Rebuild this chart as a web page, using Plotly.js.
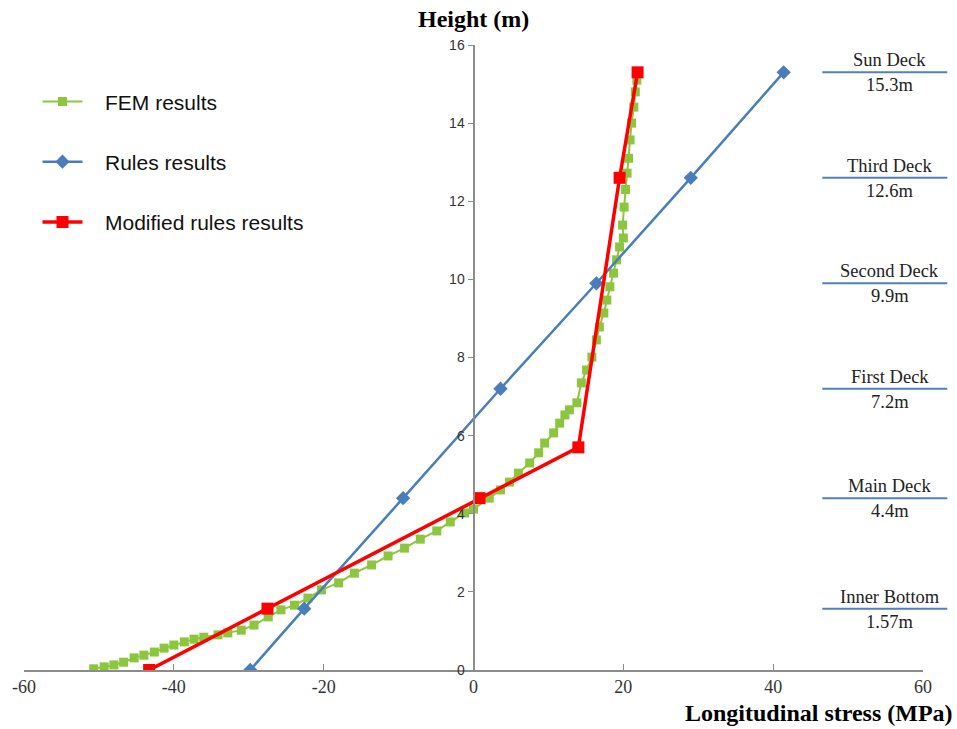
<!DOCTYPE html>
<html>
<head>
<meta charset="utf-8">
<script src="https://cdn.plot.ly/plotly-3.0.1.min.js"></script>
<style>html,body{margin:0;padding:0;background:#fff;}#chart{width:957px;height:729px;}</style>
</head>
<body>
<div id="chart"></div>
<script>
// FEM results (MPa, m)
var femStress = [-50.7,-49.3,-48.0,-46.7,-45.3,-44.0,-42.6,-41.3,-40.0,-38.6,-37.3,-36.0,-34.1,-32.8,-31.0,-29.3,-27.4,-25.7,-23.9,-22.1,-20.3,-18.0,-15.9,-13.6,-11.4,-9.2,-7.1,-4.9,-3.1,-1.2,0.0,2.1,3.6,4.8,6.0,7.5,8.7,9.5,10.7,11.5,12.2,12.8,13.8,14.4,15.1,15.8,16.4,16.8,17.4,17.8,18.2,18.7,19.1,19.5,20.0,19.9,20.1,20.3,20.5,20.7,20.9,21.1,21.4,21.6,21.8,21.9];
var femHeight = [0.03,0.08,0.13,0.20,0.31,0.38,0.46,0.56,0.64,0.72,0.79,0.84,0.90,0.95,1.02,1.15,1.36,1.54,1.66,1.84,2.05,2.23,2.48,2.69,2.92,3.12,3.35,3.56,3.79,4.02,4.12,4.40,4.61,4.81,5.04,5.30,5.56,5.81,6.07,6.32,6.53,6.66,6.84,7.35,7.68,8.01,8.45,8.78,9.14,9.47,9.81,10.16,10.50,10.83,11.06,11.39,11.85,12.30,12.72,13.10,13.57,14.00,14.41,14.80,15.10,15.30];
// Rules results
var rulesStress = [-29.8,-22.6,-9.4,3.6,16.4,29.0,41.4];
var rulesHeight = [0,1.57,4.4,7.2,9.9,12.6,15.3];
// Modified rules results
var modStress = [-43.3,-27.5,0.8,14.0,19.5,21.9];
var modHeight = [0,1.57,4.4,5.7,12.6,15.3];
// Deck annotations
var deckNames = ["Sun Deck","Third Deck","Second Deck","First Deck","Main Deck","Inner Bottom"];
var deckHeights = [15.3,12.6,9.9,7.2,4.4,1.57];
var deckLabels = ["15.3m","12.6m","9.9m","7.2m","4.4m","1.57m"];
var seriesNames = ["FEM results","Rules results","Modified rules results"];
var xTicks = [-60,-40,-20,0,20,40,60];
var yTicks = [0,2,4,6,8,10,12,14,16];

var pad = '\u00a0\u00a0\u00a0';
var traces = [
  {x: femStress, y: femHeight, type:'scatter', mode:'lines+markers', name:pad + seriesNames[0], legendgroup:'a',
   line:{color:'#8cc63f', width:2}, marker:{symbol:'square', size:9, color:'#8cc63f'}},
  {x: rulesStress, y: rulesHeight, type:'scatter', mode:'lines+markers', name:pad + seriesNames[1], legendgroup:'b',
   line:{color:'#4a7ebb', width:2.5}, marker:{symbol:'diamond', size:11, color:'#4a7ebb'}},
  {x: modStress, y: modHeight, type:'scatter', mode:'lines+markers', name:pad + seriesNames[2], legendgroup:'c',
   line:{color:'#ff0000', width:3.5}, marker:{symbol:'square', size:12, color:'#ff0000'}}
];

var annotations = [
  {text:'<b>Height (m)</b>', xref:'paper', yref:'paper', x:0.5, xanchor:'center', y:1, yanchor:'bottom', yshift:11, showarrow:false,
   font:{family:'Liberation Serif', size:24, color:'#000'}},
  {text:'<b>Longitudinal stress (MPa)</b>', xref:'paper', yref:'paper', x:1.036, xanchor:'right', y:0, yanchor:'top', yshift:-28, showarrow:false,
   font:{family:'Liberation Serif', size:24, color:'#000'}}
];
var shapes = [];
for (var i = 0; i < deckNames.length; i++) {
  annotations.push({text:deckNames[i], xref:'paper', yref:'y', x:0.963, xanchor:'center', y:deckHeights[i], yanchor:'bottom', yshift:0,
    showarrow:false, font:{family:'Liberation Serif', size:18.5, color:'#222'}});
  annotations.push({text:deckLabels[i], xref:'paper', yref:'y', x:0.963, xanchor:'center', y:deckHeights[i], yanchor:'top', yshift:-1,
    showarrow:false, font:{family:'Liberation Serif', size:18.5, color:'#222'}});
  shapes.push({type:'line', xref:'paper', yref:'y', x0:0.888, x1:1.027, y0:deckHeights[i], y1:deckHeights[i],
    line:{color:'#4f81bd', width:2}});
}

var layout = {
  width:957, height:729,
  margin:{l:24, r:34, t:45, b:59, pad:0},
  paper_bgcolor:'#fff', plot_bgcolor:'#fff',
  showlegend:true,
  legend:{x:0.015, y:0.942, xanchor:'left', yanchor:'top', traceorder:'grouped', tracegroupgap:30, itemwidth:40,
    font:{family:'Liberation Sans', size:21, color:'#111'}, bgcolor:'rgba(0,0,0,0)'},
  xaxis:{range:[-60,60], tickvals:xTicks, ticktext:xTicks.map(String), showgrid:false, zeroline:false,
    showline:true, linecolor:'#8c8c8c', linewidth:1.5, ticks:'inside', ticklen:6, tickcolor:'#8c8c8c',
    tickfont:{family:'Liberation Serif', size:18, color:'#333'}, anchor:'y'},
  yaxis:{range:[0,16], tickvals:yTicks, showgrid:false, zeroline:false, showline:true, linecolor:'#8c8c8c', linewidth:2,
    ticks:'outside', ticklen:5, tickcolor:'#8c8c8c', anchor:'free', position:0.5,
    tickfont:{family:'Liberation Sans', size:14, color:'#333'}},
  annotations:annotations,
  shapes:shapes
};
Plotly.newPlot('chart', traces, layout, {displayModeBar:false, staticPlot:true});
</script>
</body>
</html>
